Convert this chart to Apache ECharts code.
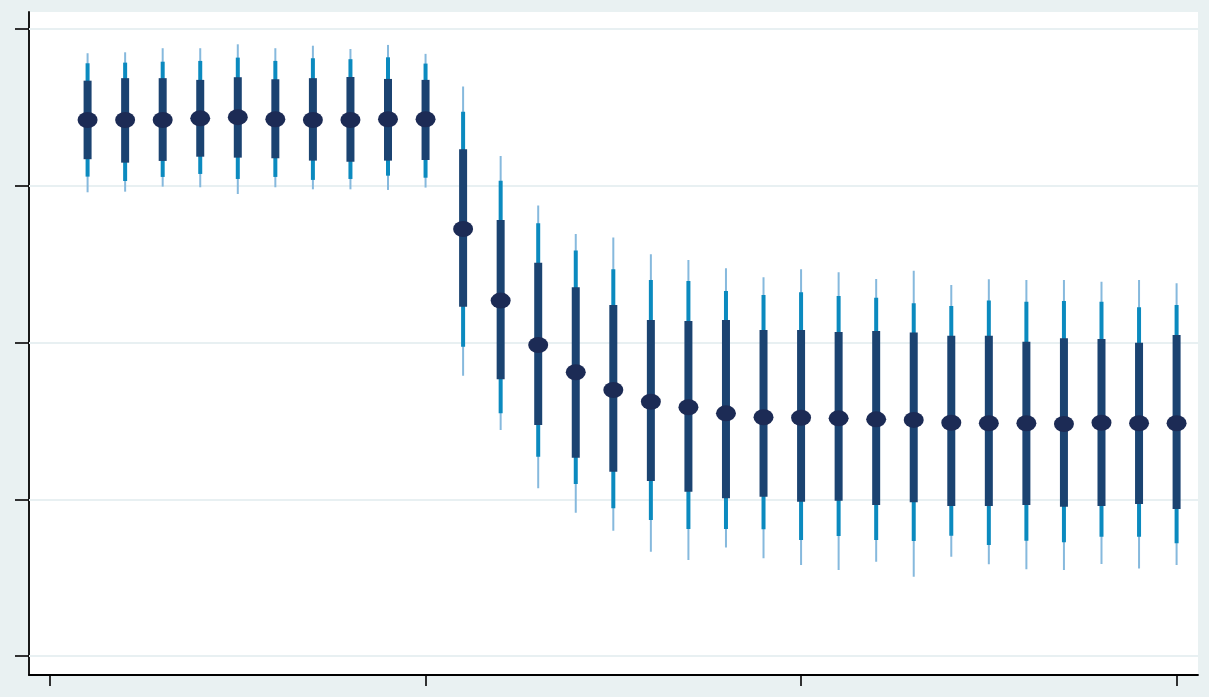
<!DOCTYPE html>
<html>
<head>
<meta charset="utf-8">
<script src="https://cdn.jsdelivr.net/npm/echarts@6/dist/echarts.min.js"></script>
<style>
html,body{margin:0;padding:0;background:#e9f1f2;}
#chart{width:1209px;height:697px;}
</style>
</head>
<body>
<div id="chart"></div>
<script>
// Periods (x positions)
const periods = [1,2,3,4,5,6,7,8,9,10,11,12,13,14,15,16,17,18,19,20,21,22,23,24,25,26,27,28,29,30];
// Point estimates
const estimate = [1.419,1.419,1.419,1.430,1.437,1.424,1.419,1.419,1.424,1.424,0.724,0.267,-0.016,-0.190,-0.303,-0.378,-0.413,-0.452,-0.477,-0.480,-0.484,-0.490,-0.494,-0.512,-0.515,-0.515,-0.520,-0.512,-0.515,-0.515];
// Inner (thick) interval
const thickHi = [1.670,1.686,1.686,1.675,1.692,1.679,1.686,1.694,1.681,1.675,1.233,0.781,0.509,0.352,0.239,0.144,0.137,0.144,0.080,0.080,0.067,0.073,0.063,0.043,0.043,0.005,0.027,0.022,-0.001,0.048];
const thickLo = [1.169,1.147,1.158,1.185,1.179,1.175,1.160,1.153,1.160,1.164,0.228,-0.235,-0.526,-0.735,-0.824,-0.884,-0.952,-0.994,-0.984,-1.016,-1.009,-1.037,-1.019,-1.043,-1.043,-1.037,-1.048,-1.043,-1.030,-1.062];
// Middle interval
const midHi = [1.781,1.785,1.791,1.796,1.817,1.796,1.813,1.807,1.819,1.779,1.472,1.032,0.760,0.586,0.467,0.399,0.392,0.329,0.303,0.320,0.297,0.286,0.250,0.233,0.267,0.260,0.265,0.260,0.225,0.239];
const midLo = [1.058,1.030,1.056,1.075,1.043,1.056,1.037,1.043,1.064,1.051,-0.027,-0.452,-0.729,-0.903,-1.058,-1.132,-1.190,-1.190,-1.192,-1.260,-1.234,-1.260,-1.266,-1.233,-1.292,-1.264,-1.275,-1.239,-1.239,-1.281];
// Outer (thin) interval
const thinHi = [1.845,1.851,1.877,1.877,1.902,1.877,1.893,1.872,1.898,1.841,1.632,1.190,0.873,0.692,0.669,0.563,0.526,0.473,0.416,0.467,0.448,0.405,0.458,0.367,0.403,0.399,0.399,0.388,0.399,0.378];
const thinLo = [0.958,0.962,0.994,0.990,0.947,0.990,0.977,0.977,0.973,0.988,-0.212,-0.558,-0.930,-1.086,-1.201,-1.335,-1.388,-1.307,-1.377,-1.419,-1.451,-1.398,-1.494,-1.367,-1.415,-1.447,-1.451,-1.413,-1.441,-1.419];
// Tick positions
const xTicks = [0,10,20,30];
const yTicks = [-2,-1,0,1,2];

function rangeData(lo, hi){ return periods.map((p,i)=>[p, lo[i], hi[i]]); }
function rangeSeries(lo, hi, color, width, z, extra){
  return Object.assign({
    type:'custom', z:z, silent:true,
    data: rangeData(lo, hi),
    encode:{x:0, y:[1,2]},
    renderItem:function(params, api){
      const x = api.value(0);
      const a = api.coord([x, api.value(1)]);
      const b = api.coord([x, api.value(2)]);
      return {type:'line', shape:{x1:a[0],y1:a[1],x2:b[0],y2:b[1]}, style:{stroke:color, lineWidth:width, fill:null}};
    }
  }, extra||{});
}

const chart = echarts.init(document.getElementById('chart'), null, {renderer:'canvas'});
chart.setOption({
  backgroundColor:'#e9f1f2',
  animation:false,
  grid:{left:29, right:11, top:12, bottom:22, show:true, backgroundColor:'#ffffff', borderWidth:0, containLabel:false},
  xAxis:{
    type:'value', min:-0.56, max:30.57,
    axisLine:{show:true, onZero:false, lineStyle:{color:'#000', width:1.8}},
    axisTick:{show:true, customValues:xTicks, length:11, lineStyle:{color:'#000', width:1.6}},
    axisLabel:{show:false},
    splitLine:{show:false}
  },
  yAxis:{
    type:'value', min:-2.121, max:2.108,
    axisLine:{show:true, onZero:false, lineStyle:{color:'#000', width:1.8}},
    axisTick:{show:true, customValues:yTicks, length:14, lineStyle:{color:'#000', width:1.6}},
    axisLabel:{show:false},
    splitLine:{show:false}
  },
  series:[
    rangeSeries(thinLo, thinHi, '#86b9dd', 2, 2, {
      markLine:{silent:true, symbol:'none', label:{show:false}, z:1,
        lineStyle:{color:'#e8f0f2', width:2, type:'solid'},
        data: yTicks.map(v=>({yAxis:v}))}
    }),
    rangeSeries(midLo, midHi, '#0b8abf', 4, 3),
    rangeSeries(thickLo, thickHi, '#1b4371', 8, 4),
    {type:'scatter', z:5, silent:true, symbol:'circle', symbolSize:[20,16],
     itemStyle:{color:'#1c2b55', opacity:1},
     data: periods.map((p,i)=>[p, estimate[i]])}
  ]
});
</script>
</body>
</html>
